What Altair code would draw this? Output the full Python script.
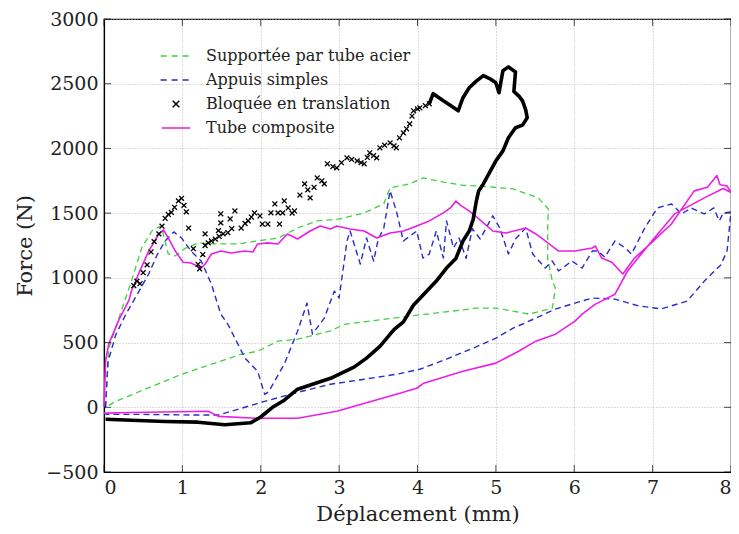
import altair as alt
import pandas as pd

# ---------------- data ----------------
S_GREEN = "Supportée par tube acier"
S_BLUE = "Appuis simples"
S_BLACK = "Bloquée en translation"
S_MAG = "Tube composite"

green_x = [0.02, 0.06, 0.19, 0.35, 0.48, 0.62, 0.73, 0.82, 0.91, 1.04, 1.2, 1.46, 1.71, 1.96, 2.22, 2.47,
           2.72, 3.01, 3.32, 3.57, 3.65, 3.9, 4.07, 4.33, 4.58, 4.78, 5.22, 5.54, 5.67, 5.66, 5.66, 5.72,
           5.76, 5.72, 5.42, 5.0, 4.75, 4.4, 3.9, 3.06, 2.89, 2.47, 2.22, 1.96, 1.75, 0.99, 0.15, 0.02]
green_y = [0, 450, 690, 975, 1230, 1370, 1400, 1185, 1170, 1230, 1270, 1262, 1262, 1285, 1308, 1385,
           1440, 1455, 1502, 1571, 1695, 1726, 1772, 1740, 1715, 1710, 1687, 1618, 1532, 1362, 1153, 975,
           920, 766, 720, 766, 766, 740, 705, 640, 590, 526, 511, 433, 410, 255, 46, 0]

blue_x = [0.02, 0.05, 0.15, 0.28, 0.45, 0.57, 0.68, 0.78, 0.89, 0.99, 1.11, 1.24, 1.37, 1.49, 1.58, 1.8,
          1.96, 2.05, 2.1, 2.3, 2.47, 2.59, 2.66, 2.81, 2.94, 3.0, 3.06, 3.1, 3.14, 3.27, 3.35, 3.44,
          3.5, 3.57, 3.65, 3.73, 3.82, 3.99, 4.07, 4.15, 4.24, 4.33, 4.37, 4.46, 4.53, 4.62, 4.7, 4.8,
          4.96, 5.05, 5.16, 5.25, 5.38, 5.47, 5.63, 5.72, 5.8, 5.97, 6.1, 6.23, 6.3, 6.39, 6.52, 6.65,
          6.73, 6.9, 7.06, 7.24, 7.37, 7.49, 7.66, 7.78, 7.85, 7.9, 8.0,
          7.95, 7.87, 7.66, 7.44, 7.11, 6.81, 6.52, 6.23, 6.01, 5.76, 5.51, 5.22, 5.0, 4.71, 4.37, 4.03,
          3.73, 3.3, 2.89, 2.5, 2.05, 1.75, 1.46, 1.2, 0.5, 0.02]
blue_y = [0, 350, 560, 720, 900, 1030, 1180, 1285, 1355, 1308, 1207, 1130, 952, 720, 642, 379,
          279, 100, 120, 333, 588, 805, 565, 689, 898, 844, 1107, 1285, 1362, 1107, 1308, 1130,
          1300, 1385, 1672, 1517, 1285, 1362, 1153, 1184, 1362, 1153, 1440, 1231, 1308, 1150, 1380, 1300,
          1480, 1385, 1184, 1300, 1385, 1184, 1076, 1130, 1053, 1130, 1076, 1207, 1207, 1160, 1285, 1231,
          1184, 1385, 1540, 1571, 1494, 1540, 1494, 1540, 1440, 1500, 1510,
          1210, 1100, 975, 820, 760, 785, 836, 844, 805, 759, 689, 611, 534, 457, 372, 294,
          255, 215, 178, 120, 46, -8, -60, -60, -55, -55]

mag_x = [0.0, 0.02, 0.06, 0.19, 0.32, 0.35, 0.44, 0.57, 0.7, 0.76, 0.82, 0.91, 1.01, 1.11, 1.24, 1.29,
         1.37, 1.49, 1.62, 1.8, 1.9, 1.96, 2.09, 2.22, 2.34, 2.47, 2.63, 2.76, 2.89, 2.97, 3.14, 3.32,
         3.48, 3.65, 3.82, 3.99, 4.15, 4.33, 4.42, 4.49, 4.55, 4.62, 4.71, 4.96, 5.13, 5.38, 5.51, 5.63,
         5.8, 6.01, 6.23, 6.27, 6.35, 6.48, 6.62, 6.77, 7.0, 7.24, 7.53, 7.7, 7.82, 7.86, 7.95, 8.0,
         7.9, 7.66, 7.28, 6.99, 6.68, 6.52, 6.27, 6.1, 6.01, 5.76, 5.51, 5.29, 5.0, 4.58, 4.08, 3.99,
         3.73, 2.97, 2.47, 1.96, 1.46, 1.33, 0.35, 0.0]
mag_y = [0, 356, 488, 675, 830, 898, 1029, 1207, 1339, 1370, 1308, 1207, 1120, 1115, 1076, 1107,
         1184, 1207, 1192, 1207, 1200, 1262, 1270, 1262, 1339, 1300, 1362, 1401, 1378, 1401, 1378, 1362,
         1308, 1347, 1362, 1401, 1440, 1502, 1540, 1594, 1560, 1533, 1494, 1362, 1347, 1385, 1339, 1285,
         1207, 1207, 1231, 1246, 1153, 1120, 1030, 1153, 1280, 1416, 1672, 1700, 1790, 1720, 1710, 1660,
         1690, 1618, 1494, 1285, 1053, 874, 797, 720, 666, 565, 511, 433, 341, 279, 186, 147,
         100, -31, -85, -85, -70, -31, -40, -45]

# black: loading part drawn as 'x' markers
blk_mk_x = [0.38, 0.42, 0.46, 0.5, 0.55, 0.6, 0.64, 0.7, 0.74, 0.78,
            0.82, 0.86, 0.9, 0.95, 0.99, 1.02, 1.05, 1.08, 1.14, 1.2, 1.22, 1.26, 1.29, 1.33, 1.37, 1.42,
            1.47, 1.52, 1.58, 1.63, 1.29, 1.46, 1.49, 1.49, 1.61, 1.67, 1.75, 1.8, 1.84, 1.88, 1.92, 1.99,
            2.02, 2.09, 2.13, 2.18, 2.22, 2.24, 2.28, 2.3, 2.35, 2.4, 2.43, 2.5, 2.56, 2.6, 2.63, 2.68,
            2.72, 2.78, 2.81, 2.85, 2.92, 2.97, 3.03, 3.1, 3.16, 3.23, 3.28, 3.32, 3.36, 3.39, 3.44, 3.48,
            3.52, 3.58, 3.65, 3.7, 3.73, 3.77, 3.82, 3.86, 3.9, 3.93, 3.95, 4.0, 4.03, 4.1, 4.15]
blk_mk_y = [940, 975, 955, 1040, 1100, 1200, 1280, 1340, 1400, 1460,
            1490, 1505, 1545, 1595, 1615, 1560, 1510, 1385, 1225, 1105, 1070, 1180, 1250, 1270, 1285, 1300,
            1320, 1340, 1350, 1380, 1340, 1365, 1495, 1425, 1455, 1517, 1385, 1420, 1440, 1470, 1502, 1478,
            1416, 1416, 1502, 1571, 1502, 1416, 1502, 1594, 1540, 1500, 1517, 1640, 1726, 1680, 1618, 1700,
            1772, 1750, 1726, 1881, 1860, 1850, 1890, 1927, 1915, 1904, 1890, 1881, 1930, 1966, 1945, 1927,
            2005, 2025, 2043, 2020, 2005, 2082, 2120, 2152, 2190, 2250, 2291, 2305, 2314, 2330, 2345]

# black: peak and unloading drawn as a thick line
blk_ln_x = [4.15, 4.2, 4.33, 4.45, 4.52, 4.58, 4.66, 4.75, 4.84, 4.92, 5.0, 5.04, 5.09, 5.16, 5.25, 5.23,
            5.3, 5.34, 5.38, 5.4, 5.34, 5.25, 5.16, 5.09, 5.0, 4.91, 4.84, 4.78, 4.75, 4.71, 4.66, 4.58,
            4.49, 4.37, 4.24, 4.03, 3.95, 3.82, 3.7, 3.52, 3.35, 3.19, 2.89, 2.47, 2.3, 2.15, 2.0, 1.87,
            1.54, 1.2, 0.78, 0.35, 0.02]
blk_ln_y = [2345, 2423, 2368, 2320, 2291, 2392, 2469, 2520, 2562, 2540, 2508, 2430, 2601, 2630, 2590, 2440,
            2400, 2368, 2300, 2237, 2180, 2160, 2082, 1981, 1904, 1803, 1726, 1672, 1590, 1450, 1362, 1285,
            1150, 1076, 975, 840, 790, 660, 600, 470, 380, 310, 224, 140, 55, 0, -75, -120,
            -135, -115, -110, -100, -93]

x_ticks = [0, 1, 2, 3, 4, 5, 6, 7, 8]
y_ticks = [-500, 0, 500, 1000, 1500, 2000, 2500, 3000]

# ---------------- styling ----------------
SERIES = [S_GREEN, S_BLUE, S_BLACK, S_MAG]
COLORS = ["#3fd23f", "#2b2bc8", "#000000", "#ec1ee6"]
DASH_PATH = "M-1.4,0H-0.85M-0.4,0H0.15M0.6,0H1.15"
SOLID_PATH = "M-1.3,0H1.3"
X_PATH = "M-0.3,-0.3L0.3,0.3M-0.3,0.3L0.3,-0.3"
SHAPES = [DASH_PATH, DASH_PATH, X_PATH, SOLID_PATH]
FONT = "DejaVu Serif"
W, H = 627, 453


def path_df(xs, ys, name):
    return pd.DataFrame({"x": xs, "y": ys, "i": list(range(len(xs))), "serie": name})


xs = alt.Scale(domain=[0, 8], nice=False, zero=False)
ys = alt.Scale(domain=[-500, 3000], nice=False, zero=False)

X = alt.X("x:Q", scale=xs,
          axis=alt.Axis(title="Déplacement (mm)", values=x_ticks, grid=True, ticks=False,
                        labelPadding=6, titlePadding=6, format="d"))
Y = alt.Y("y:Q", scale=ys,
          axis=alt.Axis(title="Force (N)", values=y_ticks, grid=True, ticks=False,
                        labelPadding=6, titlePadding=10, format="d"))


def line_layer(df, color, width, dash=None):
    kw = dict(color=color, strokeWidth=width, strokeJoin="round")
    if dash:
        kw["strokeDash"] = dash
    return alt.Chart(df).mark_line(**kw).encode(x=X, y=Y, order="i:Q")


green = line_layer(path_df(green_x, green_y, S_GREEN), COLORS[0], 1.3, [6, 4])
blue = line_layer(path_df(blue_x, blue_y, S_BLUE), COLORS[1], 1.4, [6, 4])
mag = line_layer(path_df(mag_x, mag_y, S_MAG), COLORS[3], 1.6)
black_line = line_layer(path_df(blk_ln_x, blk_ln_y, S_BLACK), "#000000", 3.6)

legend = alt.Legend(title=None, orient="none", legendX=60, legendY=25, padding=0,
                    symbolSize=484, symbolStrokeWidth=1.5, labelFont=FONT, labelFontSize=16,
                    labelColor="#222", labelOffset=18, rowPadding=4, labelLimit=400)

black_pts = alt.Chart(path_df(blk_mk_x, blk_mk_y, S_BLACK)).mark_point(
    filled=False, size=260, strokeWidth=1.3, opacity=1
).encode(
    x=X, y=Y,
    color=alt.Color("serie:N", scale=alt.Scale(domain=SERIES, range=COLORS), legend=legend,
                    sort=SERIES),
    shape=alt.Shape("serie:N", scale=alt.Scale(domain=SERIES, range=SHAPES), legend=legend,
                    sort=SERIES),
)

xt = pd.DataFrame({"t": x_ticks})
yt = pd.DataFrame({"t": y_ticks})
tick_x_bot = alt.Chart(xt).mark_tick(color="black", size=7, thickness=1).encode(
    x=alt.X("t:Q", scale=xs), y=alt.value(H - 3.5))
tick_x_top = alt.Chart(xt).mark_tick(color="black", size=7, thickness=1).encode(
    x=alt.X("t:Q", scale=xs), y=alt.value(3.5))
tick_y_left = alt.Chart(yt).mark_tick(color="black", size=7, thickness=1).encode(
    y=alt.Y("t:Q", scale=ys), x=alt.value(3.5))
tick_y_right = alt.Chart(yt).mark_tick(color="black", size=7, thickness=1).encode(
    y=alt.Y("t:Q", scale=ys), x=alt.value(W - 3.5))

chart = alt.layer(
    green, blue, mag, black_line, black_pts,
    tick_x_bot, tick_x_top, tick_y_left, tick_y_right,
).properties(
    width=W, height=H,
    autosize=alt.AutoSizeParams(type="none"),
    padding={"left": 96, "top": 11, "right": 0, "bottom": 55},
).configure_view(
    stroke="black", strokeWidth=1.2
).configure_axis(
    labelFont=FONT, labelFontSize=19, labelColor="#222",
    titleFont=FONT, titleFontSize=21, titleColor="#222", titleFontWeight="normal",
    domainColor="black", domainWidth=1.2,
    gridColor="#b8b8b8", gridDash=[1, 2], gridWidth=1,
)

chart.save("out.html", embed_options={"renderer": "svg", "actions": False})
